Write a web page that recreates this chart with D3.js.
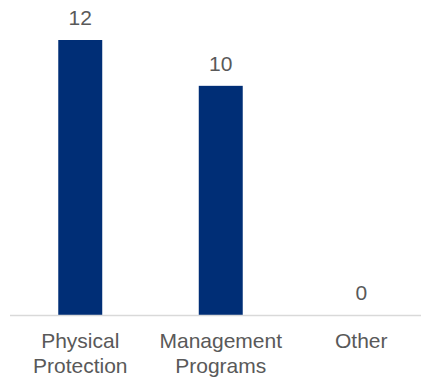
<!DOCTYPE html>
<html>
<head>
<meta charset="utf-8">
<script src="https://cdn.jsdelivr.net/npm/d3@7"></script>
<style>
	html, body { margin: 0; padding: 0; background: #fff; }
	svg { display: block; }
	text { font-family: Arial, 'Liberation Sans', sans-serif; fill: #595959; }
</style>
</head>
<body>
<div id="chart"></div>
<script>
var categories = [ [ 'Physical', 'Protection' ], [ 'Management', 'Programs' ], [ 'Other' ] ];
var values = [ 12, 10, 0 ];

var width = 421,
	height = 383,
	baseline = 315,
	plotTop = 40,
	fontSize = 21,
	pad = 0.687;

var svg = d3.select( '#chart' ).append( 'svg' )
	.attr( 'width', width )
	.attr( 'height', height );

var x = d3.scaleBand()
	.domain( d3.range( values.length ) )
	.range( [ 10, 431.5 ] )
	.paddingInner( pad )
	.paddingOuter( pad / 2 );

var y = d3.scaleLinear()
	.domain( [ 0, 12 ] )
	.range( [ baseline, plotTop ] );

// bars
svg.append( 'g' ).selectAll( 'rect' )
	.data( values )
	.enter().append( 'rect' )
	.attr( 'x', function ( d, i ) { return x( i ); } )
	.attr( 'y', function ( d ) { return y( d ); } )
	.attr( 'width', x.bandwidth() )
	.attr( 'height', function ( d ) { return baseline - y( d ); } )
	.style( 'fill', '#002e76' );

// axis line
svg.append( 'line' )
	.attr( 'x1', x.range()[0] )
	.attr( 'x2', x.range()[1] )
	.attr( 'y1', baseline + 0.5 )
	.attr( 'y2', baseline + 0.5 )
	.style( 'stroke', '#d9d9d9' )
	.style( 'stroke-width', 1.5 );

// value labels
svg.append( 'g' ).selectAll( 'text' )
	.data( values )
	.enter().append( 'text' )
	.attr( 'x', function ( d, i ) { return x( i ) + x.bandwidth() / 2; } )
	.attr( 'y', function ( d ) { return y( d ) - 15; } )
	.attr( 'text-anchor', 'middle' )
	.style( 'font-size', fontSize + 'px' )
	.text( function ( d ) { return d; } );

// category labels
var cats = svg.append( 'g' ).selectAll( 'text' )
	.data( categories )
	.enter().append( 'text' )
	.attr( 'text-anchor', 'middle' )
	.style( 'font-size', fontSize + 'px' );

cats.selectAll( 'tspan' )
	.data( function ( d, i ) { return d.map( function ( t ) { return { t: t, i: i }; } ); } )
	.enter().append( 'tspan' )
	.attr( 'x', function ( d ) { return x( d.i ) + x.bandwidth() / 2; } )
	.attr( 'y', function ( d, j ) { return baseline + 33 + j * 25; } )
	.text( function ( d ) { return d.t; } );
</script>
</body>
</html>
